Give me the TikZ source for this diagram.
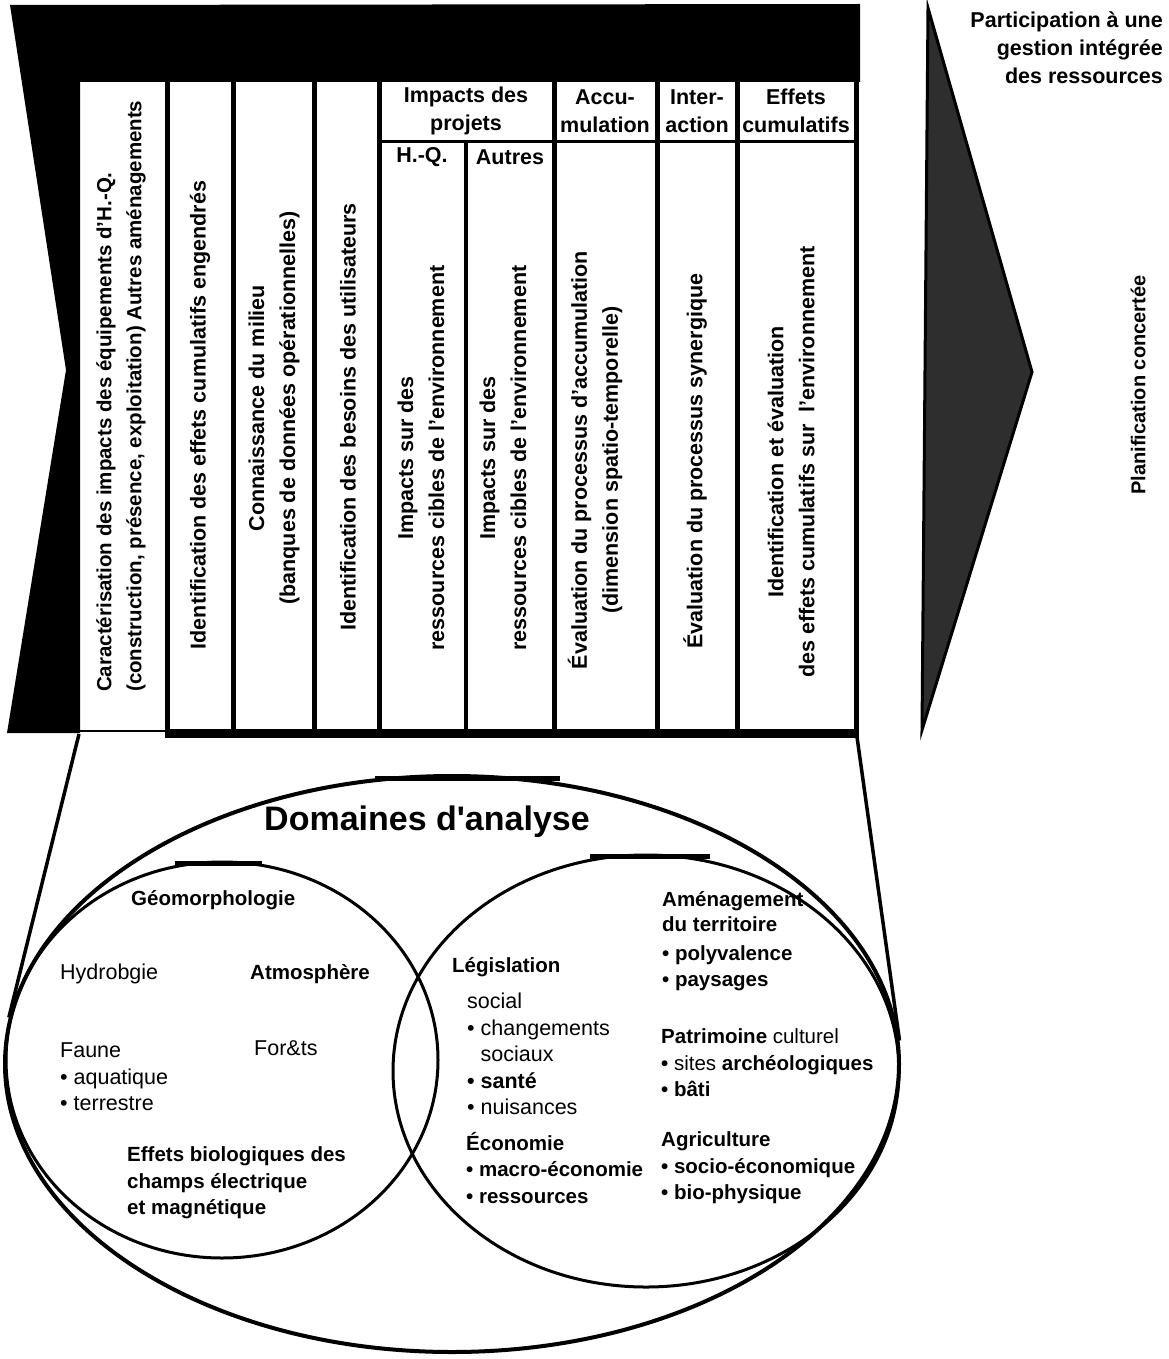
\documentclass[tikz,border=0pt]{standalone}
\usepackage{fontspec}
\setmainfont{Liberation Sans}
\usetikzlibrary{shapes.geometric}

\tikzset{
  rule/.style={line width=5pt},
  coltext/.style={rotate=90, inner sep=0pt, align=center, font=\bfseries\fontsize{21.5}{31}\selectfont},
  headtext/.style={inner sep=0pt, align=center, font=\bfseries\fontsize{21.5}{28}\selectfont},
  domring/.style={draw, ellipse, inner sep=0pt},
  domtext/.style={anchor=west, inner sep=0pt, align=left, font=\fontsize{21.5}{26.5}\selectfont},
  domhead/.style={domtext, font=\bfseries\fontsize{20.5}{26.5}\selectfont},
}

\begin{document}
\begin{tikzpicture}[x=1pt,y=-1pt]
\useasboundingbox (0,0) rectangle (1168,1359);
\fill[white] (0,0) rectangle (1168,1359);

% black frame, top bar and left tail
\fill[black] (10,5) -- (860,4) -- (860,82) -- (80,82) -- (80,733) -- (7,733) -- (66,370) -- cycle;

% table rules
\foreach \x in {167,233,314,379,554,657,737}
  \draw[rule] (\x,80) -- (\x,735);
\draw[rule] (856,4) -- (856,738);
\draw[line width=4pt] (466,142) -- (466,735);
\draw[line width=3pt] (379,142) -- (856,142);
\draw[line width=2pt] (80,731) -- (167,731);
\draw[line width=9pt] (165,733) -- (858,733);
\coordinate (tblL) at (79,734);
\coordinate (tblR) at (857,737);

% column heads
\node[headtext] (hImp) at (466,111) {Impacts des\\projets};
\node[headtext] (hAcc) at (605,111) {Accu-\\mulation};
\node[headtext] (hInt) at (697,111) {Inter-\\action};
\node[headtext] (hEff) at (796,111) {Effets\\cumulatifs};
\node[headtext] (hHQ) at (422,157) {H.-Q.};
\node[headtext] (hAut) at (510,157) {Autres};

% column texts
\node[coltext, anchor=west, align=left, font=\bfseries\fontsize{20.5}{30}\selectfont] (cCar) at (121,692) {Caractérisation des impacts des équipements d'H.-Q.\\(construction, présence, exploitation) Autres aménagements};
\node[coltext] (cIdent) at (200,415) {Identification des effets cumulatifs engendrés};
\node[coltext] (cConn) at (274,408) {Connaissance du milieu\\(banques de données opérationnelles)};
\node[coltext] (cBes) at (348,417) {Identification des besoins des utilisateurs};
\node[coltext] (cImpHQ) at (421,458) {Impacts sur des\\ressources cibles de l'environnement};
\node[coltext] (cImpAut) at (503,458) {Impacts sur des\\ressources cibles de l'environnement};
\node[coltext] (cAcc) at (595,460) {Évaluation du processus d'accumulation\\(dimension spatio-temporelle)};
\node[coltext] (cSyn) at (695,461) {Évaluation du processus synergique};
\node[coltext] (cCum) at (791,462) {Identification et évaluation\\des effets cumulatifs sur\ \ l'environnement};

% right triangle
\filldraw[fill=black!82, draw=black, line width=3pt] (928,8) -- (1032,372) -- (922,730) -- cycle;
\node[headtext, anchor=east, align=right] (part) at (1163,48) {Participation à une\\gestion intégrée\\des ressources};
\node[coltext, font=\bfseries\fontsize{20}{24}\selectfont] (plan) at (1138,385) {Planification concertée};

% domains
\node[domring, line width=4pt, minimum width=894pt, minimum height=576pt] (dom) at (452,1064) {};
\node[domring, line width=3pt, minimum width=432pt, minimum height=396pt] (phys) at (222,1060) {};
\node[domring, line width=3pt, minimum width=506pt, minimum height=432pt] (hum) at (646,1071) {};
\draw[line width=5pt] (375,778) -- (560,778);
\draw[line width=5pt] (175,863) -- (262,863);
\draw[line width=5pt] (590,856) -- (710,856);
\draw[line width=3.5pt] (tblL) -- (dom.174);
\draw[line width=3.5pt] (tblR) -- (dom.3);

\node[font=\bfseries\fontsize{34}{34}\selectfont, inner sep=0pt] (title) at (427,822) {Domaines d\textquotesingle analyse};

\node[domhead] (geo) at (131,900) {Géomorphologie};
\node[domtext] (hydro) at (60,974) {Hydrobgie};
\node[domhead] (atmo) at (250,974) {Atmosphère};
\node[domtext] (faune) at (60,1077) {Faune\\• aquatique\\• terrestre};
\node[domtext] (forets) at (254,1048) {For\&ts};
\node[domhead] (effets) at (127,1183) {Effets biologiques des\\champs électrique\\et magnétique};

\node[domhead] (legis) at (452,967) {Législation};
\node[domtext] (social) at (467,1054) {social\\• changements\\\phantom{• }sociaux\\\textbf{• santé}\\• nuisances};
\node[domhead] (eco) at (466,1168) {Économie\\• macro-économie\\• ressources};

\node[domhead, font=\bfseries\fontsize{20.5}{25}\selectfont] (amen) at (662,912) {Aménagement\\du territoire};
\node[domhead] (poly) at (662,968) {• polyvalence\\• paysages};
\node[domhead] (patri) at (661,1063) {Patrimoine {\mdseries culturel}\\• {\mdseries sites} archéologiques\\• bâti};
\node[domhead] (agri) at (661,1168) {Agriculture\\• socio-économique\\• bio-physique};
\end{tikzpicture}
\end{document}
